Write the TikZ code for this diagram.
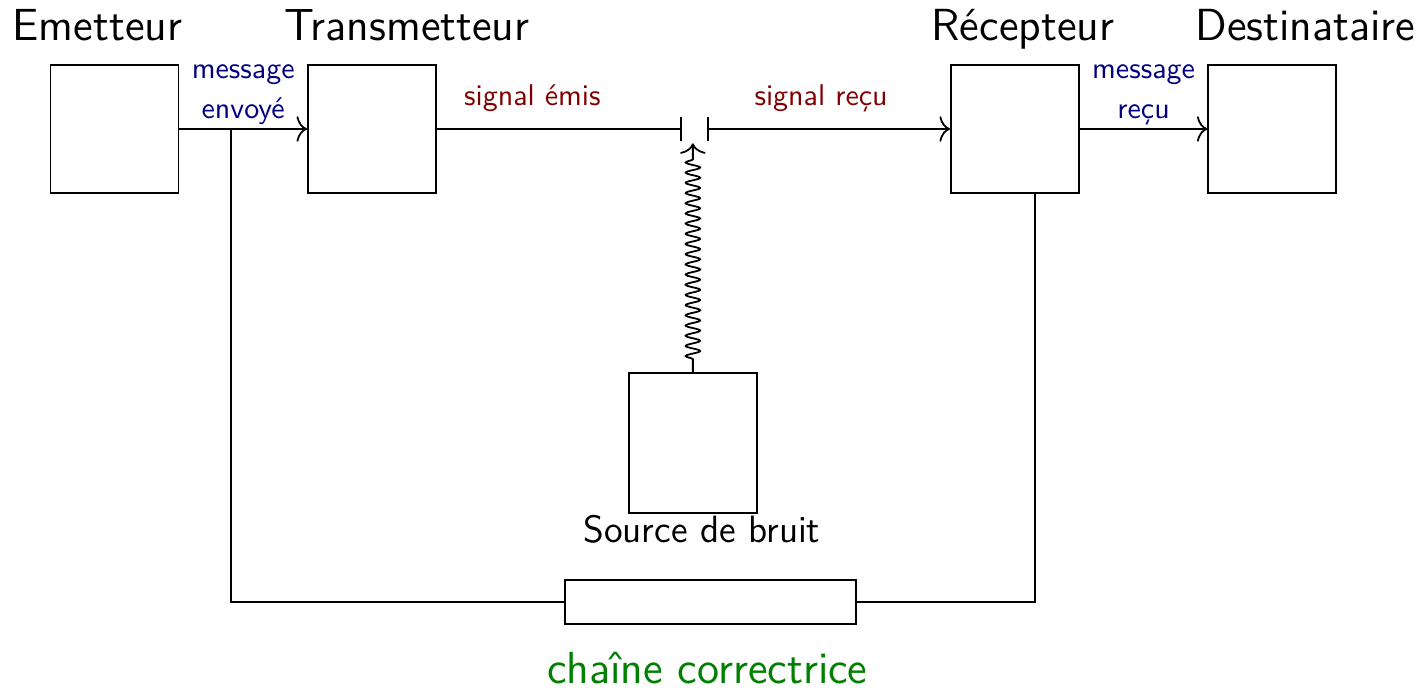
\documentclass[tikz,border=0pt]{standalone}
\usetikzlibrary{arrows.meta, decorations.pathmorphing}

\begin{document}
\begin{tikzpicture}[
  bloc/.style={rectangle,draw,semithick,minimum width=1.5cm,minimum height=1.5cm},
  titre/.style={anchor=base,font=\sffamily\fontsize{15}{18}\selectfont},
  msg/.style={align=center,inner sep=1pt,text=blue!50!black,font=\sffamily},
  sig/.style={above=2pt,text=red!50!black,font=\sffamily},
  arr/.style={-{To[length=3.5pt,width=8.5pt]},semithick},
  coupeG/.style={-{Bar[width=8pt]},semithick},
  coupeD/.style={{Bar[width=8pt]}-{To[length=3.5pt,width=8.5pt]},semithick},
  bruitarr/.style={-{To[length=3.5pt,width=8.5pt]},semithick,decorate,
    decoration={snake,amplitude=2.4pt,segment length=3.4pt,pre length=1.5mm,post length=1.5mm}}
]
  \useasboundingbox (0,0) rectangle (16.72,-8.10);
  \node[bloc](emit)  at (1.342,-1.512){};
  \node[bloc](trans) at (4.361,-1.512){};
  \node[bloc](recep) at (11.899,-1.512){};
  \node[bloc](dest)  at (14.918,-1.512){};
  \node[bloc,minimum height=1.64cm](bruit) at (8.124,-5.193){};
  \node[rectangle,draw,semithick,minimum width=3.41cm,minimum height=0.52cm](corr) at (8.329,-7.057){};

  \node[titre] at (1.143,-0.469){Emetteur};
  \node[titre] at (4.771,-0.469){Transmetteur};
  \node[titre] at (11.993,-0.469){Récepteur};
  \node[titre] at (15.305,-0.469){Destinataire};
  \node[anchor=base,font=\sffamily\fontsize{12.7}{15}\selectfont] at (8.230,-6.366){Source de bruit};
  \node[anchor=base,font=\sffamily\fontsize{15}{18}\selectfont,text=green!50!black] at (8.294,-8.019){chaîne correctrice};

  \coordinate (cL) at (7.995,-1.512);
  \coordinate (cR) at (8.288,-1.512);
  \coordinate (cN) at (8.124,-1.68);
  \coordinate (tapE) at (2.708,-1.512);

  \draw[arr](emit)--node[msg,above]{message\\[1.5pt]envoyé}(trans);
  \draw[coupeG](trans.east)--node[sig,pos=0.39]{signal émis}(cL);
  \draw[coupeD](cR)--node[sig,pos=0.47]{signal reçu}(recep.west);
  \draw[arr](recep)--node[msg,above]{message\\[1.5pt]reçu}(dest);
  \draw[bruitarr](bruit.north)--(cN);
  \draw[semithick](tapE)|-(corr.west);
  \draw[semithick]([xshift=0.234cm]recep.south)|-(corr.east);
\end{tikzpicture}
\end{document}
